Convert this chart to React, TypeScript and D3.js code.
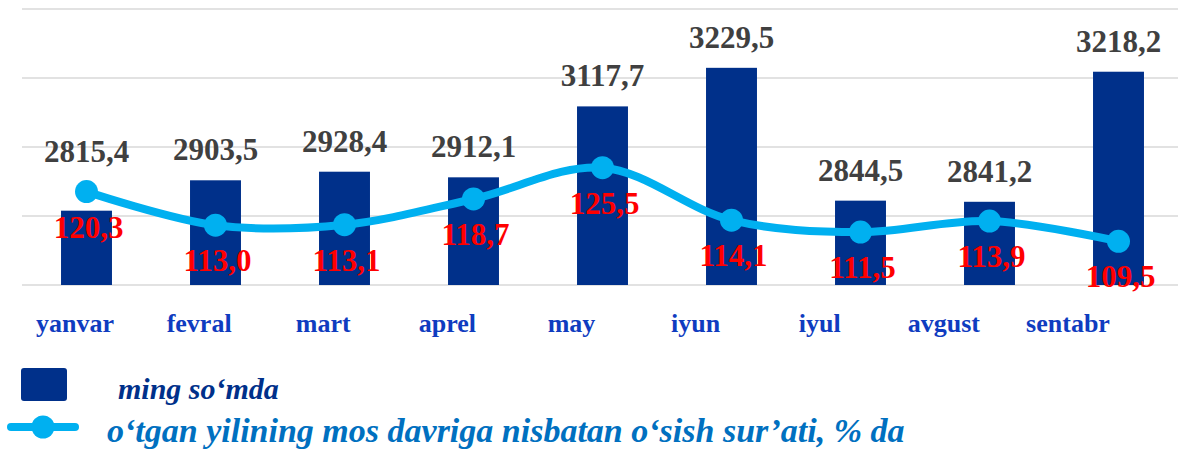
import React from "react";
import * as d3 from "d3";

const months = ["yanvar", "fevral", "mart", "aprel", "may", "iyun", "iyul", "avgust", "sentabr"];
const amounts = [2815.4, 2903.5, 2928.4, 2912.1, 3117.7, 3229.5, 2844.5, 2841.2, 3218.2];
const growth = [120.3, 113.0, 113.1, 118.7, 125.5, 114.1, 111.5, 113.9, 109.5];
const gridTicks = [2600, 2800, 3000, 3200, 3400];
const legendBar = "ming so\u2018mda";
const legendLine = "o\u2018tgan yilining mos davriga nisbatan o\u2018sish sur\u2019ati, % da";

const W = 1178;
const H = 452;
const SERIF = "Liberation Serif, Tinos, DejaVu Serif, serif";
const BAR = "#00308A";
const LINE = "#00B0F0";

const fmt = (v: number) => v.toFixed(1).replace(".", ",");

export default function App() {
  const x = d3.scaleBand<string>().domain(months).range([22, 1183]).paddingInner(0.605).paddingOuter(0.3025);
  const y = d3.scaleLinear().domain([2600, 3400]).range([285, 9]);
  const y2 = d3.scaleLinear().domain([100, 160]).range([285, 9]);
  const xl = d3.scalePoint<string>().domain(months).range([75, 1068]);
  const cx = (m: string) => (x(m) as number) + x.bandwidth() / 2;

  const line = d3
    .line<number>()
    .x((_, i) => cx(months[i]))
    .y((d) => y2(d))
    .curve(d3.curveCatmullRom.alpha(0.5));

  const textStyle = { fontFamily: SERIF, fontWeight: 700 } as React.CSSProperties;

  return (
    <svg width={W} height={H} style={{ position: "absolute", left: 0, top: 0, background: "#fff" }}>
      {gridTicks.map((t) => (
        <line key={t} x1={22} x2={W} y1={y(t)} y2={y(t)} stroke="#D9D9D9" strokeWidth={1.6} />
      ))}
      {amounts.map((v, i) => (
        <rect key={i} x={x(months[i])} y={y(v)} width={x.bandwidth()} height={y(2600) - y(v)} fill={BAR} />
      ))}
      <path d={line(growth) || ""} fill="none" stroke={LINE} strokeWidth={8} strokeLinecap="round" />
      {growth.map((g, i) => (
        <circle key={i} cx={cx(months[i])} cy={y2(g)} r={11.5} fill={LINE} />
      ))}
      {amounts.map((v, i) => (
        <text
          key={i}
          x={cx(months[i])}
          y={Math.min(y(v) - 20, y2(growth[i]) - 30)}
          textAnchor="middle"
          style={{ ...textStyle, fontSize: 31 }}
          fill="#404040"
        >
          {fmt(v)}
        </text>
      ))}
      {growth.map((g, i) => (
        <text
          key={i}
          x={cx(months[i]) + 2}
          y={y2(g) + 46}
          textAnchor="middle"
          style={{ ...textStyle, fontSize: 31 }}
          fill="#FF0000"
        >
          {fmt(g)}
        </text>
      ))}
      {months.map((m) => (
        <text key={m} x={xl(m)} y={332} textAnchor="middle" style={{ ...textStyle, fontSize: 26 }} fill="#0F3CC0">
          {m}
        </text>
      ))}
      <rect x={21} y={368} width={46} height={33} rx={3} fill={BAR} />
      <text x={118} y={399} style={{ ...textStyle, fontSize: 30, fontStyle: "italic" }} fill="#00308A">
        {legendBar}
      </text>
      <line x1={11} x2={75} y1={427} y2={427} stroke={LINE} strokeWidth={8} strokeLinecap="round" />
      <circle cx={43} cy={427} r={11.5} fill={LINE} />
      <text x={107} y={442} style={{ ...textStyle, fontSize: 34, fontStyle: "italic" }} fill="#0070C0">
        {legendLine}
      </text>
    </svg>
  );
}
